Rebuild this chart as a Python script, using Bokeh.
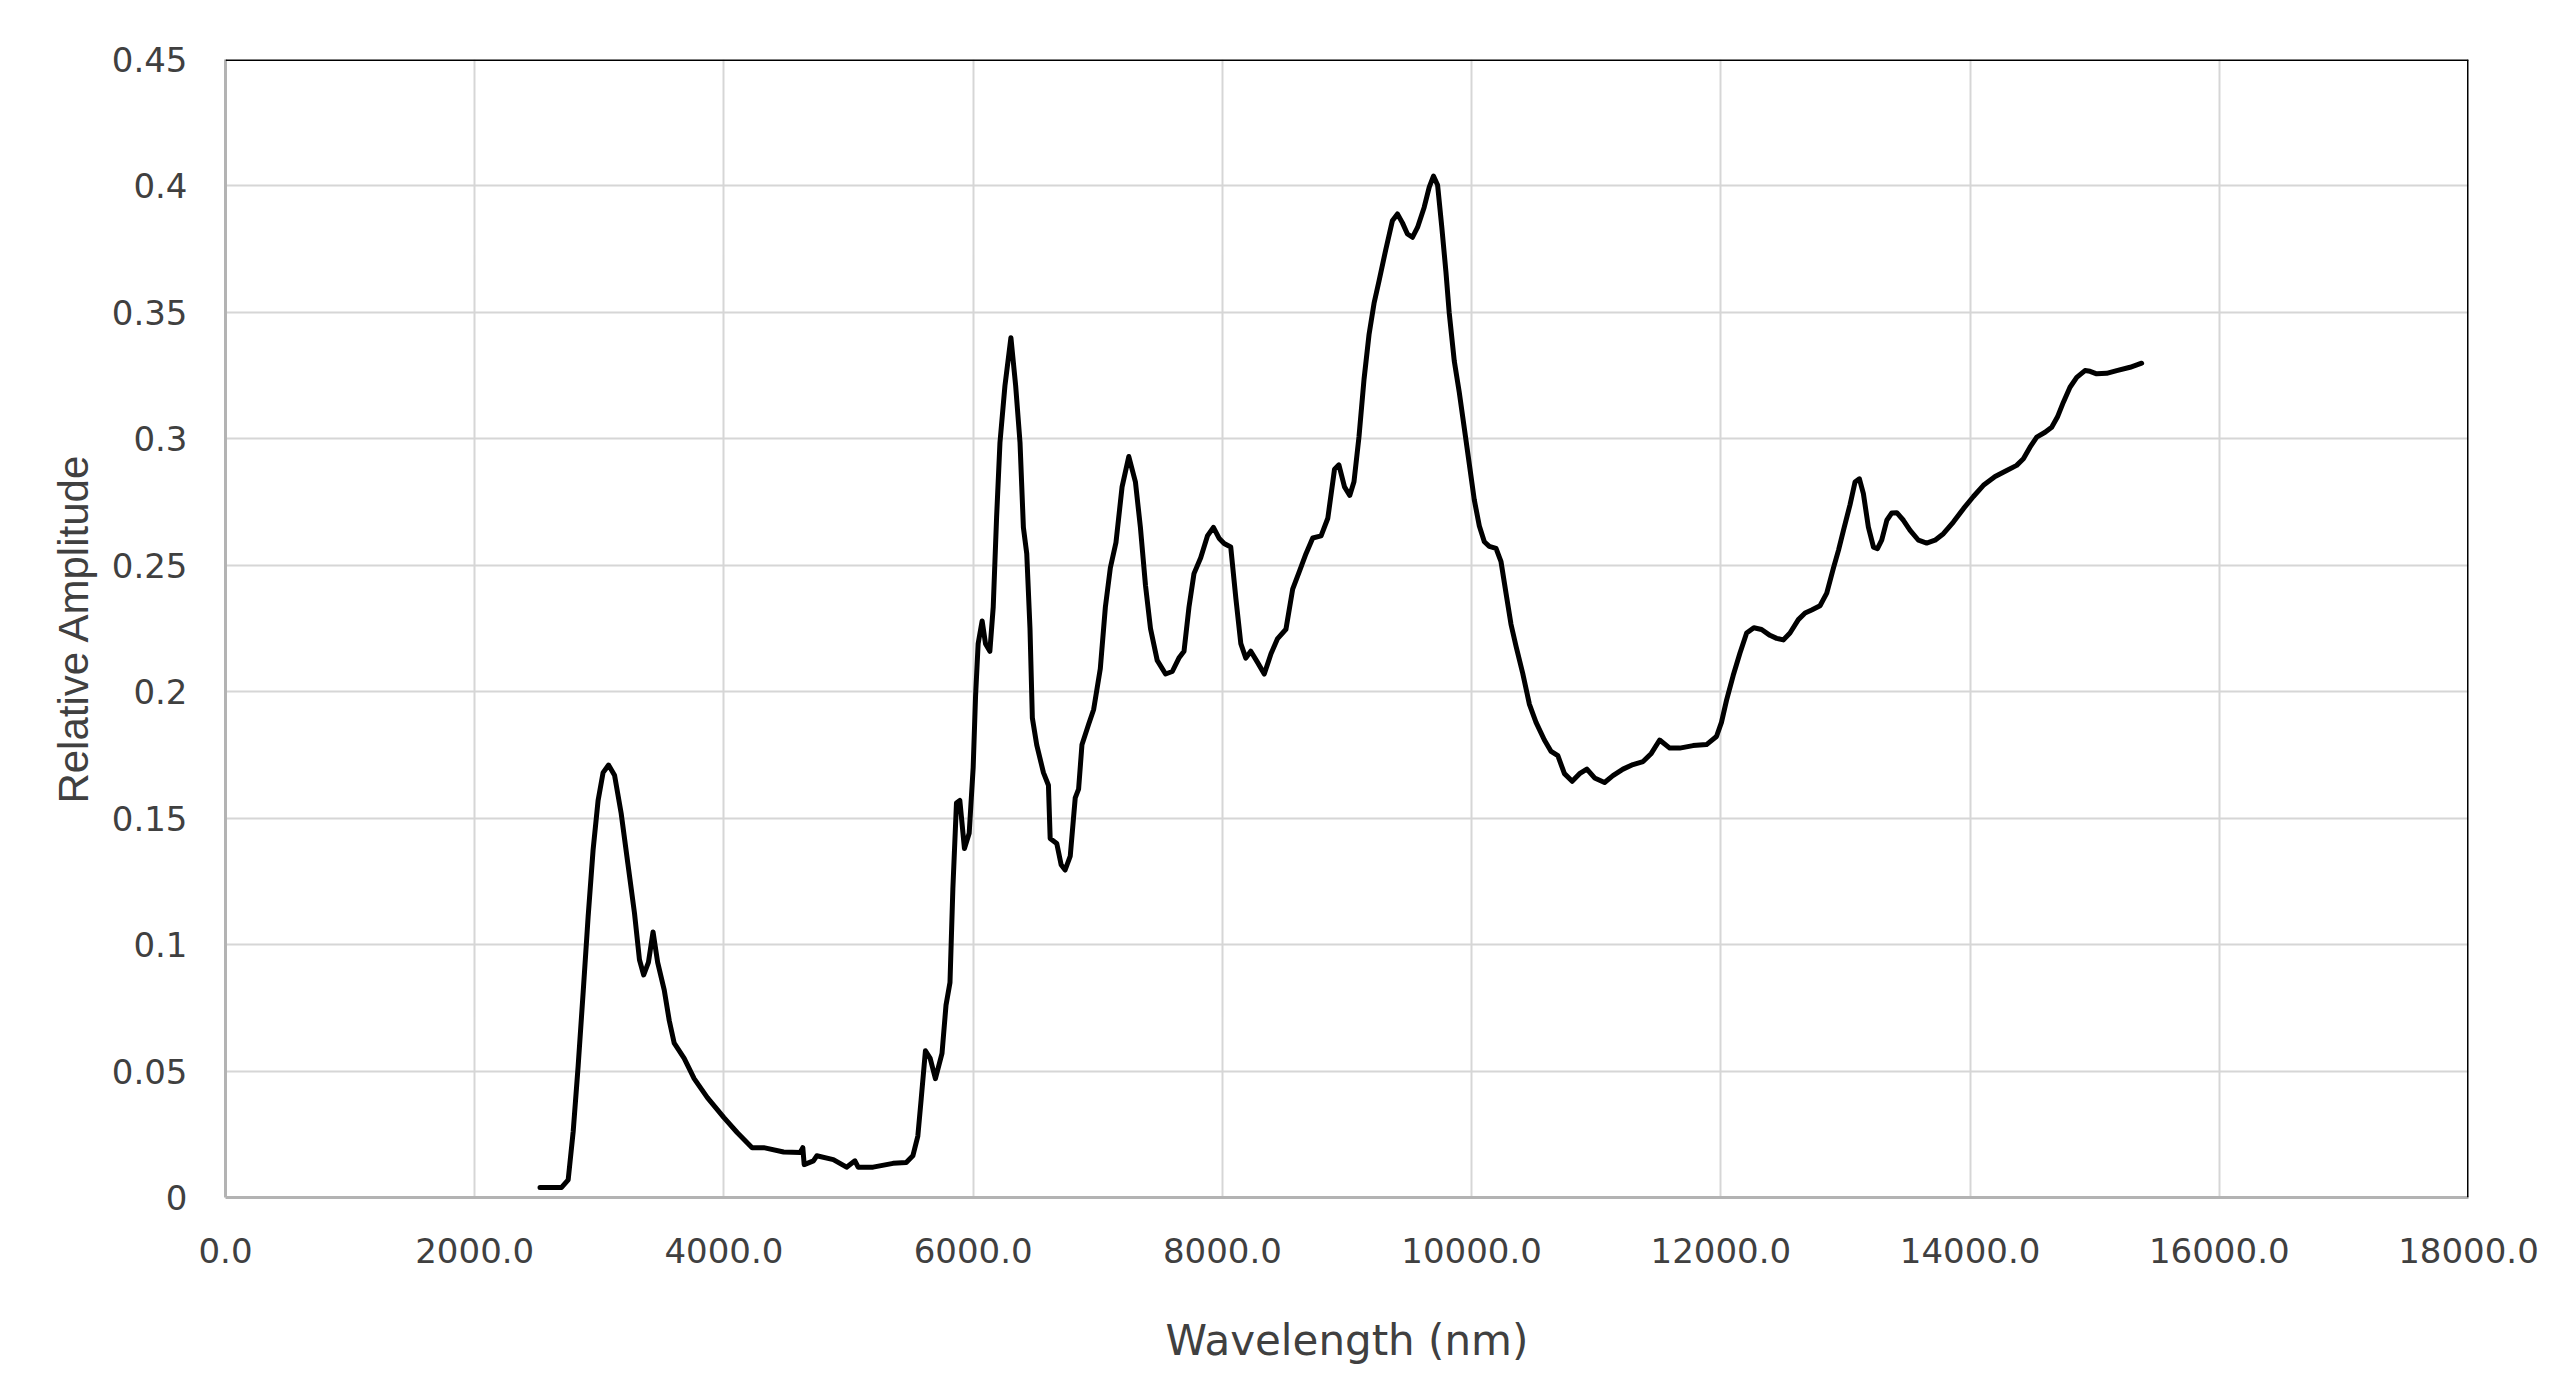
from bokeh.plotting import figure
from bokeh.models import Range1d, FixedTicker, Span, Label
from bokeh.embed import file_html
from bokeh.resources import INLINE

title_text = "Dry Coffee FTIR"
x_label = "Wavelength (nm)"
y_label = "Relative Amplitude"

x_ticks = [0, 2000, 4000, 6000, 8000, 10000, 12000, 14000, 16000, 18000]
x_tick_labels = ["0.0", "2000.0", "4000.0", "6000.0", "8000.0", "10000.0",
                 "12000.0", "14000.0", "16000.0", "18000.0"]
y_ticks = [0, 0.05, 0.1, 0.15, 0.2, 0.25, 0.3, 0.35, 0.4, 0.45]
y_tick_labels = ["0", "0.05", "0.1", "0.15", "0.2", "0.25", "0.3", "0.35", "0.4", "0.45"]

wavelength = [
    2524, 2600, 2697, 2750, 2790, 2830, 2870, 2910, 2950, 2990, 3030, 3074, 3122,
    3175, 3229, 3282, 3322, 3356, 3394, 3431, 3468, 3521, 3561, 3601, 3681, 3761,
    3867, 4000, 4106, 4226, 4319, 4479, 4612, 4633, 4644, 4718, 4745, 4878, 4984,
    5051, 5077, 5197, 5357, 5463, 5516, 5556, 5583, 5617, 5655, 5697, 5750, 5782,
    5814, 5837, 5866, 5893, 5930, 5968, 6000, 6019, 6040, 6072, 6099, 6134, 6161,
    6188, 6215, 6255, 6303, 6341, 6376, 6403, 6430, 6456, 6475, 6510, 6564, 6604,
    6618, 6671, 6706, 6738, 6779, 6819, 6846, 6873, 6926, 6967, 7020, 7061, 7101,
    7146, 7195, 7249, 7302, 7342, 7383, 7423, 7477, 7544, 7598, 7651, 7692, 7732,
    7772, 7826, 7880, 7928, 7973, 8014, 8067, 8108, 8148, 8188, 8228, 8282, 8336,
    8390, 8443, 8510, 8564, 8618, 8671, 8725, 8792, 8846, 8900, 8935, 8980, 9022,
    9056, 9096, 9137, 9177, 9217, 9257, 9311, 9364, 9405, 9445, 9485, 9525, 9566,
    9619, 9660, 9694, 9727, 9761, 9794, 9820, 9861, 9901, 9941, 9981, 10021, 10062,
    10102, 10142, 10196, 10236, 10276, 10316, 10357, 10410, 10464, 10517, 10584,
    10638, 10692, 10745, 10807, 10866, 10925, 10987, 11067, 11134, 11215, 11295,
    11376, 11442, 11509, 11590, 11670, 11777, 11885, 11965, 12005, 12046, 12099,
    12153, 12207, 12265, 12327, 12394, 12448, 12501, 12555, 12622, 12676, 12729,
    12796, 12850, 12904, 12944, 12984, 13037, 13077, 13112, 13144, 13184, 13225,
    13257, 13291, 13332, 13372, 13412, 13465, 13519, 13586, 13652, 13719, 13786,
    13866, 13947, 14027, 14107, 14201, 14294, 14374, 14428, 14481, 14535, 14602,
    14655, 14701, 14749, 14802, 14856, 14922, 14963, 15016, 15096, 15177, 15284,
    15377,
]

amplitude = [
    0.004, 0.004, 0.004, 0.007, 0.026, 0.052, 0.081, 0.111, 0.1375, 0.157, 0.168, 0.171, 0.167,
    0.152, 0.132, 0.1125, 0.094, 0.088, 0.093, 0.105, 0.093, 0.082, 0.070, 0.061, 0.055, 0.047,
    0.0395, 0.0316, 0.0257, 0.0197, 0.0197, 0.018, 0.0178, 0.0197, 0.013, 0.0145, 0.0165, 0.015, 0.012,
    0.0145, 0.012, 0.012, 0.0135, 0.0138, 0.0165, 0.0243, 0.039, 0.058, 0.055, 0.047, 0.057, 0.076,
    0.085, 0.122, 0.156, 0.157, 0.138, 0.144, 0.170, 0.198, 0.219, 0.228, 0.219, 0.216, 0.2335,
    0.269, 0.2985, 0.321, 0.340, 0.321, 0.2985, 0.265, 0.2546, 0.225, 0.1896, 0.179, 0.168, 0.163,
    0.142, 0.140, 0.1316, 0.1295, 0.135, 0.158, 0.1615, 0.179, 0.187, 0.193, 0.209, 0.2335, 0.249,
    0.259, 0.281, 0.293, 0.283, 0.265, 0.242, 0.225, 0.2124, 0.207, 0.208, 0.2133, 0.216, 0.2335,
    0.2467, 0.253, 0.2616, 0.265, 0.2607, 0.2586, 0.2572, 0.237, 0.219, 0.2133, 0.216, 0.2116, 0.207,
    0.215, 0.221, 0.2247, 0.2406, 0.2476, 0.2546, 0.2608, 0.2616, 0.2686, 0.288, 0.2897, 0.281, 0.2776,
    0.283, 0.3007, 0.3237, 0.3413, 0.3536, 0.3624, 0.3748, 0.3862, 0.3889, 0.3854, 0.381, 0.3797, 0.3836,
    0.3915, 0.3995, 0.4039, 0.4004, 0.3836, 0.366, 0.350, 0.3307, 0.3184, 0.3043, 0.2902, 0.276, 0.2655,
    0.2593, 0.2575, 0.2567, 0.2514, 0.239, 0.2267, 0.2179, 0.2073, 0.195, 0.1879, 0.1809,
    0.1764, 0.1747, 0.1676, 0.1646, 0.1676, 0.1694, 0.1659, 0.1641, 0.1668, 0.1694, 0.1712,
    0.1724, 0.1756, 0.1809, 0.1777, 0.1777, 0.1787, 0.1791, 0.1823, 0.1879, 0.1967, 0.2064,
    0.2152, 0.2232, 0.2253, 0.2246, 0.2223, 0.2211, 0.2205, 0.2232, 0.2285, 0.2311, 0.2323,
    0.2340, 0.239, 0.249, 0.2559, 0.2638, 0.2740, 0.2829, 0.2842, 0.2783, 0.2651, 0.2572,
    0.2566, 0.2599, 0.2678, 0.2707, 0.2708, 0.2678, 0.2638, 0.2599, 0.2588, 0.2599, 0.2625,
    0.2671, 0.2724, 0.2772, 0.2816, 0.2851, 0.2875, 0.2895, 0.2921, 0.2967, 0.3007, 0.3026,
    0.3046, 0.3086, 0.3145, 0.3204, 0.3243, 0.327, 0.3267, 0.3257, 0.3259, 0.327, 0.3283,
    0.3299,
]

W, H = 2544, 1367

p = figure(width=W, height=H, output_backend="svg", toolbar_location=None,
           x_range=Range1d(x_ticks[0], x_ticks[-1]), y_range=Range1d(y_ticks[0], y_ticks[-1]))
p.min_border_left = 225
p.min_border_right = 76
p.min_border_top = 59
p.min_border_bottom = 169
p.outline_line_color = None
p.background_fill_color = "white"
p.border_fill_color = "white"

# grids
p.xgrid.ticker = FixedTicker(ticks=x_ticks)
p.ygrid.ticker = FixedTicker(ticks=y_ticks)
for g in (p.xgrid, p.ygrid):
    g.grid_line_color = "#d6d6d6"
    g.grid_line_width = 2

# x axis
xa = p.xaxis[0]
xa.ticker = FixedTicker(ticks=x_ticks)
xa.major_label_overrides = {t: s for t, s in zip(x_ticks, x_tick_labels)}
xa.major_tick_line_color = None
xa.minor_tick_line_color = None
xa.major_tick_out = 0
xa.major_tick_in = 0
xa.major_label_standoff = 40
xa.major_label_text_font = "DejaVu Sans"
xa.major_label_text_font_size = "34px"
xa.major_label_text_color = "#404040"
xa.axis_line_color = "#b3b3b3"
xa.axis_line_width = 3
xa.axis_label = x_label
xa.axis_label_text_font = "DejaVu Sans"
xa.axis_label_text_font_size = "42px"
xa.axis_label_text_font_style = "normal"
xa.axis_label_text_color = "#404040"
xa.axis_label_standoff = 50

# y axis
ya = p.yaxis[0]
ya.ticker = FixedTicker(ticks=y_ticks)
ya.major_label_overrides = {t: s for t, s in zip(y_ticks, y_tick_labels)}
ya.major_tick_line_color = None
ya.minor_tick_line_color = None
ya.major_tick_out = 0
ya.major_tick_in = 0
ya.major_label_standoff = 38
ya.major_label_text_font = "DejaVu Sans"
ya.major_label_text_font_size = "34px"
ya.major_label_text_color = "#404040"
ya.axis_line_color = "#b3b3b3"
ya.axis_line_width = 3
ya.axis_label = y_label
ya.axis_label_text_font = "Liberation Sans"
ya.axis_label_text_font_size = "42px"
ya.axis_label_text_font_style = "normal"
ya.axis_label_text_color = "#404040"
ya.axis_label_standoff = 12

# top and right frame edges (black)
p.add_layout(Span(location=y_ticks[-1], dimension="width", line_color="black", line_width=3))
p.add_layout(Span(location=x_ticks[-1], dimension="height", line_color="black", line_width=3))

# spectrum
p.line(wavelength, amplitude, line_color="black", line_width=5, line_join="round", line_cap="round")

# title: as in the reference, it sits at the very top edge
p.add_layout(Label(x=1300, y=H - 3, x_units="screen", y_units="screen", text=title_text,
                   text_align="center", text_baseline="alphabetic",
                   text_font="Liberation Sans", text_font_size="57px", text_color="#595959"))

open("out.html", "w").write(file_html(p, INLINE))
